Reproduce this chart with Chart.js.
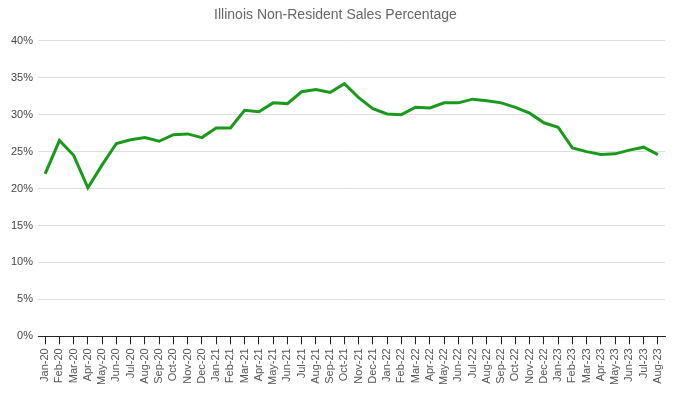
<!DOCTYPE html>
<html>
<head>
<meta charset="utf-8">
<script src="https://cdn.jsdelivr.net/npm/chart.js@4"></script>
<style>
  html, body { margin: 0; padding: 0; background: #fff; }
  #wrap { width: 682px; height: 397px; }
</style>
</head>
<body>
<div id="wrap"><canvas id="grafico"></canvas></div>
<script>
var meses = ["Jan-20","Feb-20","Mar-20","Apr-20","May-20","Jun-20","Jul-20","Aug-20","Sep-20","Oct-20","Nov-20","Dec-20",
  "Jan-21","Feb-21","Mar-21","Apr-21","May-21","Jun-21","Jul-21","Aug-21","Sep-21","Oct-21","Nov-21","Dec-21",
  "Jan-22","Feb-22","Mar-22","Apr-22","May-22","Jun-22","Jul-22","Aug-22","Sep-22","Oct-22","Nov-22","Dec-22",
  "Jan-23","Feb-23","Mar-23","Apr-23","May-23","Jun-23","Jul-23","Aug-23"];
var percentual = [22.0, 26.5, 24.5, 20.1, 23.2, 26.1, 26.6, 26.9, 26.4, 27.3, 27.4, 26.9,
  28.2, 28.2, 30.6, 30.4, 31.6, 31.5, 33.1, 33.4, 33.0, 34.2, 32.3, 30.8,
  30.1, 30.0, 31.0, 30.9, 31.6, 31.6, 32.1, 31.9, 31.6, 31.0, 30.2, 28.9,
  28.3, 25.5, 25.0, 24.6, 24.7, 25.2, 25.6, 24.6];
var yMin = 0, yMax = 40, yPasso = 5;

document.addEventListener("DOMContentLoaded", function () {
  Chart.defaults.font.family = "'Liberation Sans', Arial, sans-serif";
  var ctx = document.getElementById("grafico").getContext("2d");
  new Chart(ctx, {
    type: "line",
    data: {
      labels: meses,
      datasets: [{
        label: "Non-Resident %",
        data: percentual,
        borderColor: "#1a9a1a",
        borderWidth: 3,
        pointRadius: 0,
        tension: 0,
        fill: false
      }]
    },
    options: {
      responsive: true,
      maintainAspectRatio: false,
      animation: false,
      layout: { padding: { left: 6, right: 17, top: 0, bottom: 8 } },
      plugins: {
        legend: { display: false },
        tooltip: { enabled: false },
        title: {
          display: true,
          text: "Illinois Non-Resident Sales Percentage",
          color: "#666",
          font: { size: 14, weight: "normal" },
          padding: { top: 7, bottom: 17 }
        }
      },
      scales: {
        x: {
          offset: true,
          grid: {
            offset: false,
            drawOnChartArea: false,
            drawTicks: true,
            tickLength: 8,
            color: "#222"
          },
          border: { color: "#222", width: 1 },
          ticks: {
            autoSkip: false,
            maxRotation: 90,
            minRotation: 90,
            color: "#555",
            font: { size: 11 },
            padding: 4
          }
        },
        y: {
          min: yMin,
          max: yMax,
          grid: { color: "#dedede", drawTicks: false, lineWidth: 1 },
          border: { display: false },
          ticks: {
            stepSize: yPasso,
            color: "#444",
            font: { size: 11 },
            padding: 5,
            callback: function (v) { return v + "%"; }
          }
        }
      }
    }
  });
});
</script>
</body>
</html>
